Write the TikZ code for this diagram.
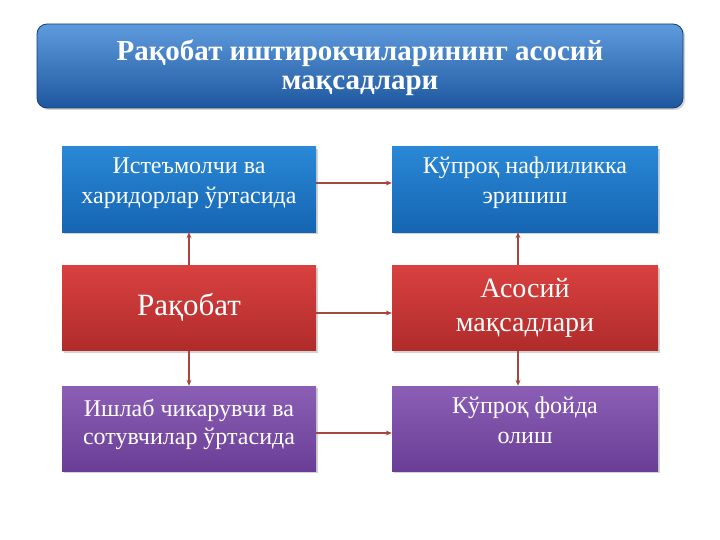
\documentclass[tikz,border=0pt]{standalone}
\usepackage{fontspec}
\setmainfont{Liberation Serif}
\usetikzlibrary{shadows,arrows.meta}
\definecolor{arr}{HTML}{A5473F}
\begin{document}
\begin{tikzpicture}[x=1pt,y=-1pt,
  boxbase/.style={draw=none,minimum height=85pt,drop shadow={opacity=0.35,shadow xshift=2pt,shadow yshift=-2pt}},
  lbox/.style={boxbase,minimum width=254pt},
  rbox/.style={boxbase,minimum width=266pt},
  bluebox/.style={top color=bluetop,bottom color=bluebot},
  redbox/.style={top color=redtop,bottom color=redbot},
  purpbox/.style={top color=purptop,bottom color=purpbot},
  txt/.style={text=white,font=\fontsize{24}{30}\selectfont,align=center},
  conn/.style={draw=arr,line width=1.5pt,-{Stealth[length=6pt,width=5pt]}}
]
\definecolor{bluetop}{HTML}{2A88D6}
\definecolor{bluebot}{HTML}{1565B2}
\definecolor{redtop}{HTML}{D8413F}
\definecolor{redbot}{HTML}{B02B2B}
\definecolor{purptop}{HTML}{8C5FB6}
\definecolor{purpbot}{HTML}{6A3E96}
\definecolor{titletop}{HTML}{5E9BDD}
\definecolor{titlebot}{HTML}{1E579F}
\useasboundingbox[fill=white] (0,0) rectangle (720,540);

% title
\node[draw=titlebot!70!black,line width=0.8pt,rounded corners=10pt,top color=titletop,bottom color=titlebot,
  minimum width=646pt,minimum height=84pt,drop shadow={opacity=0.35,shadow xshift=2pt,shadow yshift=-2pt}] (title) at (360,66) {};
\node[text=white,font=\bfseries\fontsize{29}{29}\selectfont,align=center] (titletext) at (360,68)
  {Рақобат иштирокчиларининг асосий\\мақсадлари};

% boxes
\node[lbox,bluebox] (bl) at (189,189.5) {};
\node[rbox,bluebox] (br) at (525,189.5) {};
\node[lbox,redbox] (rl) at (189,308) {};
\node[rbox,redbox] (rr) at (525,308) {};
\node[lbox,purpbox] (pl) at (189,428.5) {};
\node[rbox,purpbox] (pr) at (525,428.5) {};

% texts
\node[txt] (blt) at (189,183) {Истеъмолчи ва\\харидорлар ўртасида};
\node[txt] (brt) at (525,183) {Кўпроқ нафлиликка\\эришиш};
\node[txt,font=\fontsize{31}{34}\selectfont] (rlt) at (189,307) {Рақобат};
\node[txt,font=\fontsize{28}{34}\selectfont] (rrt) at (525,308) {Асосий\\мақсадлари};
\node[txt,font=\fontsize{24}{28}\selectfont] (plt) at (189,424) {Ишлаб чикарувчи ва\\сотувчилар ўртасида};
\node[txt] (prt) at (525,420) {Кўпроқ фойда\\олиш};

% connectors
\draw[conn] (bl.east |- 0,183) -- (br.west |- 0,183);
\draw[conn] (rl.east |- 0,313) -- (rr.west |- 0,313);
\draw[conn] (pl.east |- 0,433) -- (pr.west |- 0,433);
\draw[conn] (rl.north) -- (bl.south);
\draw[conn] (rl.south) -- (pl.north);
\draw[conn] (rr.north -| 518,0) -- (br.south -| 518,0);
\draw[conn] (rr.south -| 518,0) -- (pr.north -| 518,0);
\end{tikzpicture}
\end{document}
